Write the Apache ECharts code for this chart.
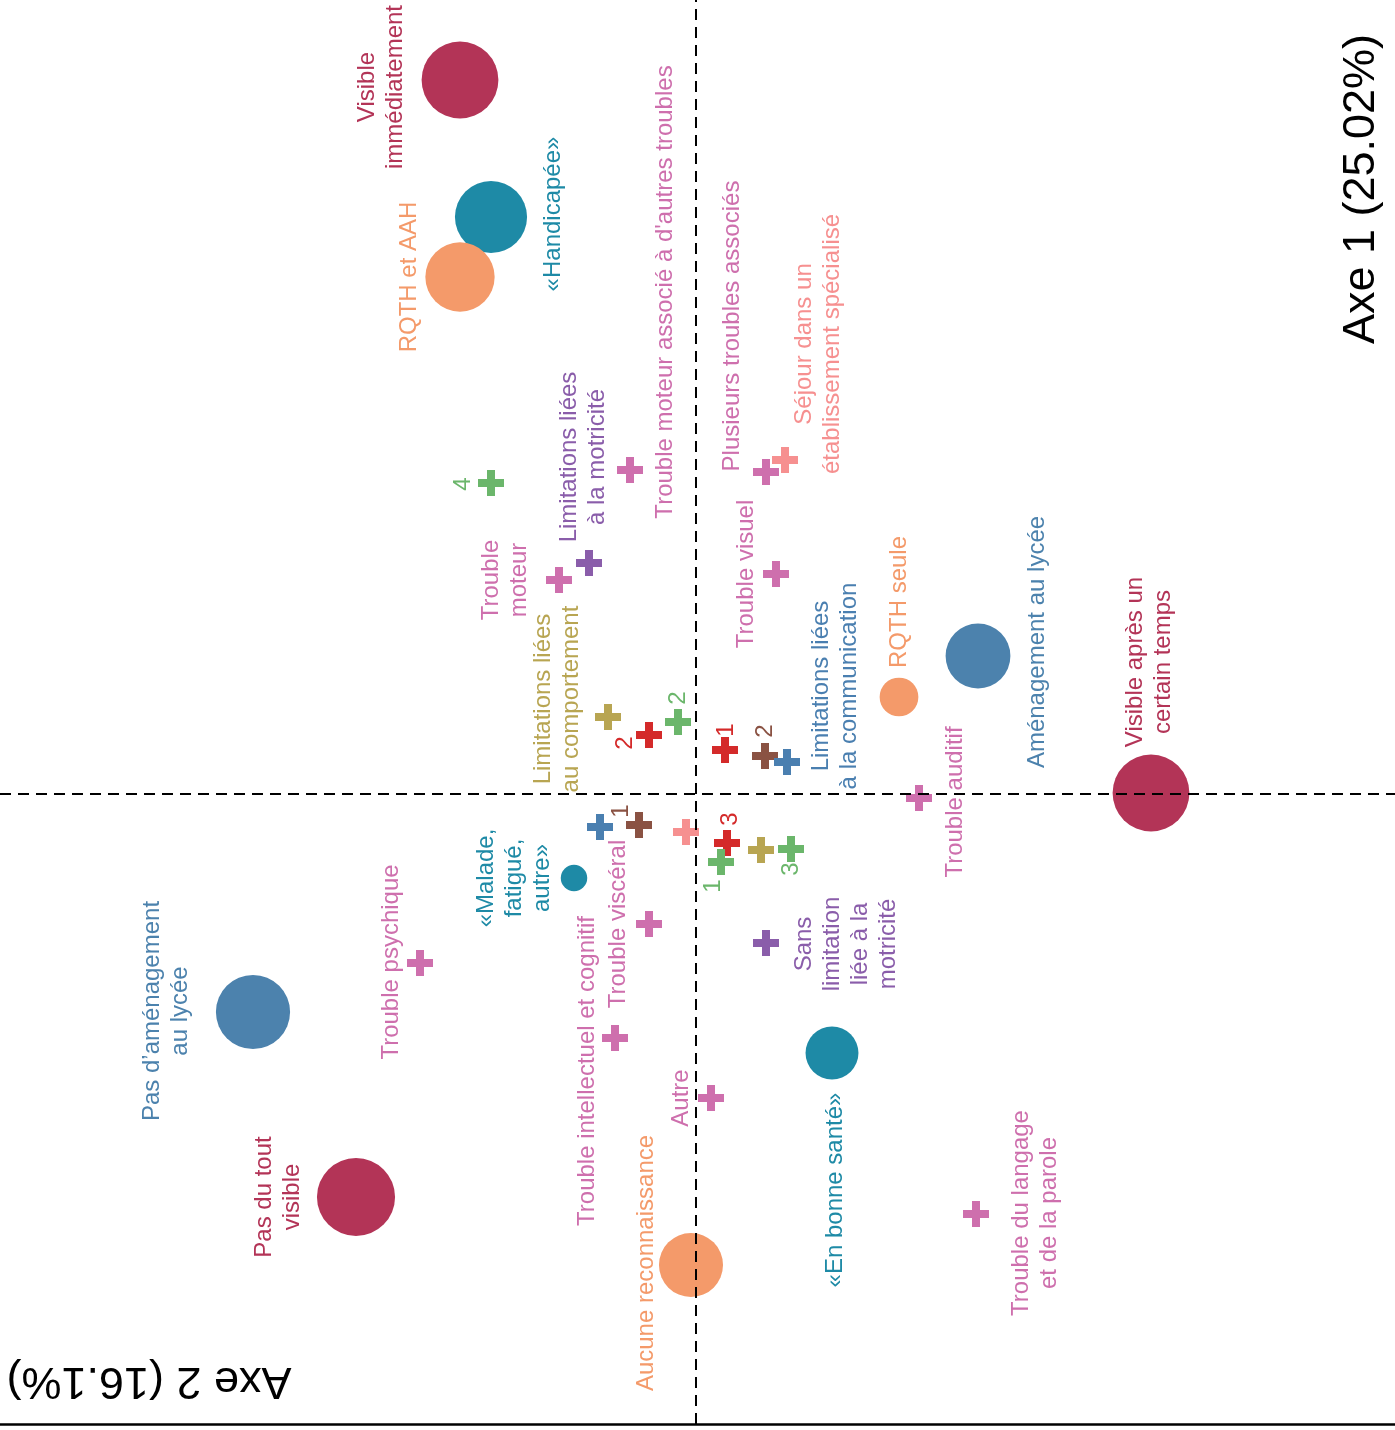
<!DOCTYPE html>
<html>
<head>
<meta charset="utf-8">
<title>ACM - visibilité du handicap</title>
<script src="https://cdn.jsdelivr.net/npm/echarts@6/dist/echarts.min.js"></script>
<style>
  html, body { margin: 0; padding: 0; background: #fff; }
  #chart { width: 1395px; height: 1430px; }
</style>
</head>
<body>
<div id="chart"></div>
<script>
  // plan tourné : h = horizontal (axe 2 inversé), v = vertical (axe 1)
  const couleurs = {
    visib: '#B33457',
    ressenti: '#1E8AA6',
    reconn: '#F49A6A',
    amenag: '#4C82AD',
    trouble: '#CE6FAD',
    motric: '#8A5DAA',
    comport: '#B8A552',
    commun: '#4A7FB0',
    sejour: '#F69090',
    nbVert: '#6BB66B',
    nbRouge: '#D42A2A',
    nbBrun: '#8A5243'
  }

  // modalités actives (cercles), poids = effectif relatif
  const cercleNoms = ['Visible immédiatement', '«Handicapée»', 'RQTH et AAH', 'Aménagement au lycée', 'RQTH seule',
    'Visible après un certain temps', '«Malade, fatigué, autre»', 'Pas d’aménagement au lycée', '«En bonne santé»',
    'Pas du tout visible', 'Aucune reconnaissance']
  const cercleH = [-2.36, -2.05, -2.36, 2.82, 2.03, 4.55, -1.22, -4.43, 1.36, -3.40, -0.05]
  const cercleV = [7.14, 5.77, 5.17, 1.38, 0.97, 0.01, -0.84, -2.18, -2.59, -4.03, -4.71]
  const cerclePoids = [59, 52, 48, 42, 15, 59, 7, 55, 28, 61, 41]
  const cercleGroupe = ['visib', 'ressenti', 'reconn', 'amenag', 'reconn', 'visib', 'ressenti', 'amenag', 'ressenti', 'visib', 'reconn']

  // modalités supplémentaires (croix)
  const croixNoms = ['Trouble moteur associé', 'Plusieurs troubles associés', 'Séjour établissement', 'Nb 4',
    'Limitations motricité', 'Trouble moteur', 'Trouble visuel', 'Limitations comportement', 'Rouge 2', 'Nb 2',
    'Rouge 1', 'Brun 2', 'Limitations communication', 'Trouble auditif', 'Sans limitation communication', 'Brun 1',
    'Sans séjour', 'Rouge 3', 'Nb 1', 'Sans limitation comportement', 'Nb 3', 'Trouble viscéral',
    'Sans limitation motricité', 'Trouble psychique', 'Trouble intellectuel', 'Autre', 'Trouble du langage']
  const croixH = [-0.66, 0.70, 0.89, -2.05, -1.07, -1.37, 0.80, -0.88, -0.47, -0.18, 0.29, 0.69, 0.91, 2.23, -0.96,
    -0.57, -0.10, 0.31, 0.25, 0.65, 0.95, -0.47, 0.70, -2.76, -0.81, 0.15, 2.80]
  const croixV = [3.24, 3.22, 3.34, 3.11, 2.31, 2.14, 2.20, 0.77, 0.59, 0.72, 0.44, 0.38, 0.32, -0.04, -0.33,
    -0.31, -0.38, -0.49, -0.68, -0.56, -0.55, -1.30, -1.49, -1.69, -2.44, -3.04, -4.20]
  const croixGroupe = ['trouble', 'trouble', 'sejour', 'nbVert', 'motric', 'trouble', 'trouble', 'comport', 'nbRouge',
    'nbVert', 'nbRouge', 'nbBrun', 'commun', 'trouble', 'commun', 'nbBrun', 'sejour', 'nbRouge', 'nbVert', 'comport',
    'nbVert', 'trouble', 'motric', 'trouble', 'trouble', 'trouble', 'trouble']

  // étiquettes (positions après répulsion)
  const etiqTextes = ['Visible\nimmédiatement', 'RQTH et AAH', '«Handicapée»', 'Trouble moteur associé à d\'autres troubles',
    'Plusieurs troubles associés', 'Séjour dans un\nétablissement spécialisé', 'Limitations liées\nà la motricité', '4',
    'Trouble\nmoteur', 'Trouble visuel', 'Limitations liées\nau comportement', 'RQTH seule', 'Aménagement au lycée',
    'Visible après un\ncertain temps', 'Limitations liées\nà la communication', '2', '2', '1', '2', 'Trouble auditif',
    '1', '3', '1', '3', '«Malade,\nfatigué,\nautre»', 'Trouble intellectuel et cognitif', 'Trouble viscéral',
    'Sans\nlimitation\nliée à la\nmotricité', 'Trouble psychique', 'Pas d’aménagement\nau lycée', 'Autre',
    '«En bonne santé»', 'Pas du tout\nvisible', 'Aucune reconnaissance', 'Trouble du langage\net de la parole']
  const etiqH = [-3.15, -2.87, -1.43, -0.31, 0.36, 1.22, -1.13, -2.33, -1.91, 0.50, -1.39, 2.03, 3.41, 4.53, 1.39,
    -0.18, -0.71, 0.30, 0.69, 2.59, -0.75, 0.34, 0.17, 0.95, -1.82, -1.09, -0.78, 1.50, -3.05, -5.30, -0.15, 1.39,
    -4.18, -0.50, 3.39]
  const etiqV = [7.07, 5.17, 5.80, 5.02, 4.68, 4.50, 3.37, 3.10, 2.14, 2.20, 0.95, 1.92, 1.52, 1.32, 1.08, 0.96,
    0.51, 0.64, 0.63, -0.08, -0.17, -0.25, -0.92, -0.75, -0.84, -2.77, -1.30, -1.50, -1.68, -2.17, -3.04, -3.96,
    -4.03, -4.69, -4.19]
  const etiqGroupe = ['visib', 'reconn', 'ressenti', 'trouble', 'trouble', 'sejour', 'motric', 'nbVert', 'trouble',
    'trouble', 'comport', 'reconn', 'amenag', 'visib', 'commun', 'nbVert', 'nbRouge', 'nbRouge', 'nbBrun', 'trouble',
    'nbBrun', 'nbRouge', 'nbVert', 'nbVert', 'ressenti', 'trouble', 'trouble', 'motric', 'trouble', 'amenag',
    'trouble', 'ressenti', 'visib', 'reconn', 'trouble']

  const police = '"Liberation Sans", Arial, Helvetica, sans-serif'
  const croix = 'path://M9 0H17V9H26V17H17V26H9V17H0V9H9Z'

  const chart = echarts.init(document.getElementById('chart'), null, { renderer: 'canvas' })

  chart.setOption({
    animation: false,
    grid: { left: 0, right: 0, top: 0, bottom: 6 },
    xAxis: {
      type: 'value',
      min: -6.96,
      max: 6.99,
      axisLine: { show: true, onZero: false, lineStyle: { color: '#000', width: 2.5 } },
      axisTick: { show: false },
      axisLabel: { show: false },
      splitLine: { show: false }
    },
    yAxis: {
      type: 'value',
      min: -6.30,
      max: 7.94,
      show: false
    },
    graphic: [
      {
        type: 'text', x: 1362, y: 189, rotation: Math.PI / 2,
        style: { text: 'Axe 1 (25.02%)', font: '45px ' + police, fill: '#000', align: 'center', verticalAlign: 'middle' }
      },
      {
        type: 'text', x: 149, y: 1380, rotation: Math.PI,
        style: { text: 'Axe 2 (16.1%)', font: '45px ' + police, fill: '#000', align: 'center', verticalAlign: 'middle' }
      }
    ],
    series: [
      {
        // axes en pointillés
        type: 'scatter',
        z: 1,
        data: [],
        markLine: {
          silent: true,
          symbol: 'none',
          label: { show: false },
          lineStyle: { color: '#000', width: 2, type: [11, 7], opacity: 1 },
          data: [{ xAxis: 0 }, { yAxis: 0 }]
        }
      },
      {
        type: 'scatter',
        z: 3,
        symbol: croix,
        symbolSize: 26,
        data: croixH.map((h, i) => ({
          name: croixNoms[i],
          value: [h, croixV[i]],
          itemStyle: { color: couleurs[croixGroupe[i]], opacity: 1 }
        }))
      },
      {
        type: 'scatter',
        z: 2,
        symbol: 'circle',
        data: cercleH.map((h, i) => ({
          name: cercleNoms[i],
          value: [h, cercleV[i]],
          symbolSize: 10 * Math.sqrt(cerclePoids[i]),
          itemStyle: { color: couleurs[cercleGroupe[i]], opacity: 1 }
        }))
      },
      {
        type: 'scatter',
        z: 4,
        symbolSize: 1,
        itemStyle: { color: 'rgba(0,0,0,0)', opacity: 1 },
        label: {
          show: true,
          position: 'inside',
          rotate: 90,
          align: 'center',
          verticalAlign: 'middle',
          fontFamily: police,
          fontSize: 24,
          lineHeight: 28,
          opacity: 1,
          formatter: p => p.name
        },
        data: etiqH.map((h, i) => ({
          name: etiqTextes[i],
          value: [h, etiqV[i]],
          label: { color: couleurs[etiqGroupe[i]] }
        }))
      }
    ]
  })
</script>
</body>
</html>
